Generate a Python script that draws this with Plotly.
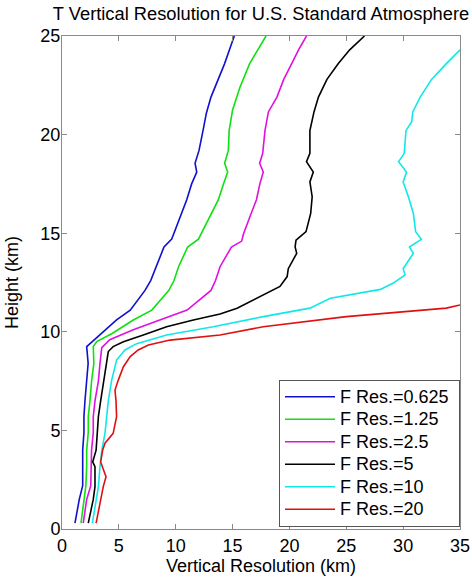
import plotly.graph_objects as go

# ---- data: height (km) and vertical resolution (km) per filter resolution ----
blue_h = [0.3, 1.5, 2.2, 3.2, 4.0, 4.9, 5.7, 6.5, 7.5, 8.4, 9.25, 9.4, 9.9, 10.6, 11.1, 12.1, 12.6, 13.3,
          14.3, 14.7, 15.8, 16.7, 17.5, 18.1, 18.55, 19.2, 20.2, 21.1, 21.9, 23.6, 25]
blue_x = [1.14, 1.52, 1.82, 1.82, 1.82, 1.93, 1.93, 2.02, 2.17, 2.3, 2.17, 2.46, 3.5, 4.8, 6.0, 7.3, 7.8, 8.3,
          8.97, 9.65, 10.4, 10.97, 11.4, 11.85, 11.7, 12.05, 12.4, 12.7, 13.1, 14.3, 15.15]

green_h = [0.3, 1.5, 2.2, 3.2, 4.0, 4.9, 5.7, 6.5, 7.5, 8.4, 9.25, 9.5, 9.9, 10.6, 11.1, 12.1, 12.6, 13.3,
           14.3, 14.7, 15.8, 16.7, 17.5, 18.1, 18.55, 19.2, 20.2, 21.25, 22.4, 23.6, 25]
green_x = [1.67, 1.93, 2.1, 2.17, 2.17, 2.31, 2.31, 2.46, 2.6, 2.8, 2.75, 3.05, 4.37, 6.27, 7.9, 9.4, 9.85, 10.25,
           11.05, 12.0, 13.0, 13.75, 14.2, 14.57, 14.3, 14.63, 14.7, 15.0, 15.65, 16.5, 17.94]

magenta_h = [0.3, 1.5, 2.2, 3.2, 4.0, 4.9, 5.7, 6.5, 7.5, 8.4, 9.2, 9.6, 10.1, 10.6, 11.1, 12.1, 12.6, 13.3,
             14.3, 14.6, 14.95, 15.8, 16.7, 17.5, 18.1, 18.55, 19.05, 20.2, 21.15, 21.9, 22.8, 23.6, 24.3, 25]
magenta_x = [1.87, 2.17, 2.53, 2.55, 2.6, 2.75, 2.75, 2.9, 3.2, 3.34, 3.5, 4.2, 6.27, 8.6, 11.0, 13.1, 13.5, 13.9,
             14.9, 15.8, 15.95, 16.5, 17.1, 17.4, 17.7, 17.38, 17.65, 17.85, 18.15, 18.9, 19.5, 20.2, 20.8, 21.5]

black_h = [0.3, 1.5, 2.15, 3.16, 3.4, 4.0, 4.85, 5.7, 6.5, 7.55, 8.4, 9.0, 9.25, 9.5, 9.84, 10.26, 10.6, 10.9,
           11.2, 11.7, 12.1, 12.3, 12.8, 13.2, 13.98, 14.3, 14.65, 15.08, 16.0, 16.85, 17.6, 18.1, 18.63, 19.05,
           20.2, 21.15, 21.9, 22.8, 23.6, 24.3, 25]
black_x = [2.31, 2.75, 2.9, 2.9, 2.7, 3.0, 3.1, 3.2, 3.4, 3.7, 3.93, 4.07, 4.5, 5.4, 7.15, 9.2, 11.55, 13.9,
           15.4, 17.1, 18.6, 19.17, 19.8, 19.9, 20.64, 20.5, 20.58, 21.46, 21.87, 22.0, 21.8, 22.1, 21.5, 21.8,
           21.8, 22.16, 22.55, 23.3, 24.3, 25.3, 26.6]

cyan_h = [0.3, 1.47, 2.15, 3.16, 4.0, 4.85, 5.7, 6.5, 7.55, 8.57, 9.08, 9.4, 9.84, 10.26, 10.77, 11.2, 11.7,
          11.95, 12.15, 12.46, 12.88, 13.2, 13.98, 14.3, 14.69, 15.08, 16.0, 16.85, 17.6, 18.1, 18.63, 19.05,
          20.2, 20.65, 21.15, 21.9, 22.8, 23.6, 24.3]
cyan_x = [2.67, 3.0, 3.2, 3.34, 3.5, 3.78, 3.93, 4.07, 4.37, 4.8, 5.54, 6.57, 9.2, 13.3, 17.7, 21.8, 23.6,
          25.9, 28.0, 29.1, 30.17, 30.0, 30.9, 30.55, 31.6, 31.1, 30.9, 30.46, 30.0, 30.3, 29.6, 30.1,
          30.25, 30.75, 30.85, 31.5, 32.5, 33.8, 35.0]

red_h = [0.3, 1.47, 2.15, 2.65, 3.4, 4.0, 4.35, 4.85, 5.7, 6.5, 7.05, 7.55, 8.23, 8.74, 9.08, 9.33, 9.58,
         9.84, 10.26, 10.77, 11.2, 11.36]
red_x = [3.0, 3.4, 3.63, 3.87, 3.4, 3.58, 3.78, 4.5, 4.8, 4.75, 4.66, 4.95, 5.4, 6.0, 6.7, 7.6, 9.5,
         13.9, 17.7, 25.0, 33.8, 35.0]

series_names = ["F Res.=0.625", "F Res.=1.25", "F Res.=2.5", "F Res.=5", "F Res.=10", "F Res.=20"]
series_colors = ["#1010d0", "#10e010", "#e010e0", "#000000", "#10e8e8", "#e01010"]
series_data = [(blue_x, blue_h), (green_x, green_h), (magenta_x, magenta_h),
               (black_x, black_h), (cyan_x, cyan_h), (red_x, red_h)]

x_ticks = [0, 5, 10, 15, 20, 25, 30, 35]
y_ticks = [0, 5, 10, 15, 20, 25]

FONT = "Liberation Sans, Arial, Helvetica, sans-serif"
FS = 18

fig = go.Figure()
for name, color, (xs, hs) in zip(series_names, series_colors, series_data):
    fig.add_trace(go.Scatter(x=xs, y=hs, mode="lines",
                             name=f'<span style="font-size:{FS}px">{name}\u00a0</span>',
                             line=dict(color=color, width=1.6)))

axis_common = dict(showline=True, linecolor="#8a8a8a", linewidth=1, mirror="ticks",
                   ticks="inside", ticklen=5, tickcolor="#8a8a8a", tickwidth=1, automargin=False,
                   showgrid=False, zeroline=False, tickfont=dict(size=FS, color="black"),
                   title_font=dict(size=FS, color="black"))

fig.update_layout(
    width=472, height=577,
    margin=dict(l=62, r=12, t=36, b=48, pad=0, autoexpand=False),
    paper_bgcolor="white", plot_bgcolor="white",
    font=dict(family=FONT, color="black"),
    title=dict(text="T Vertical Resolution for U.S. Standard Atmosphere",
               x=0.5, xref="paper", xanchor="center",
               y=1 - 14 / 577, yref="container", yanchor="middle",
               font=dict(size=18.3, color="black")),
    xaxis=dict(range=[0, 35], tickvals=x_ticks, title=dict(text="Vertical Resolution (km)", standoff=0),
               **axis_common),
    yaxis=dict(range=[0, 25], tickvals=y_ticks, title=dict(text="Height (km)", standoff=17),
               ticklabelstandoff=-3, **axis_common),
    legend=dict(x=1, xanchor="right", y=0.005, yanchor="bottom",
                bgcolor="white", bordercolor="#555555", borderwidth=1, itemwidth=50,
                font=dict(size=15, color="black"), tracegroupgap=0),
    showlegend=True,
)

# remove the default 8px page margin so the figure fills the window exactly
fig.write_html("out.html", config={"displayModeBar": False},
               post_script="document.body.style.margin='0';")
